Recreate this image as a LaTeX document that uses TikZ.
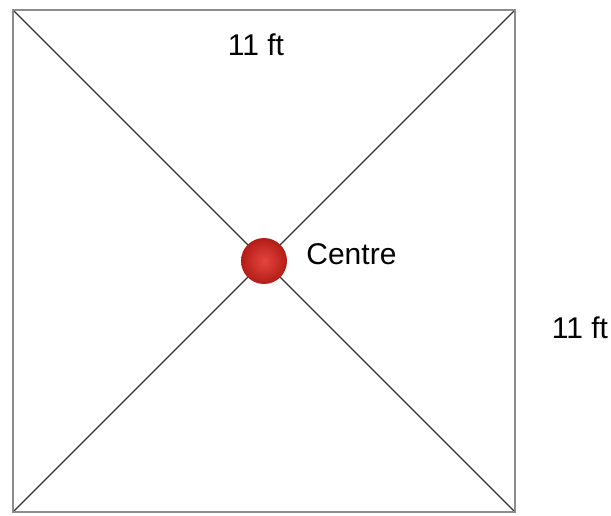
\documentclass[tikz,border=0pt]{standalone}
\usepackage{fontspec}
\setmainfont{Liberation Sans}
\usepackage{tikz}
\usetikzlibrary{positioning,calc}
\definecolor{EdgeGray}{HTML}{8C8C8C}
\definecolor{DiagGray}{HTML}{333333}
\definecolor{BallRed}{HTML}{E0241C}

\begin{document}
\begin{tikzpicture}[x=1pt, y=1pt,
  frame/.style    = {draw=EdgeGray, line width=2.8pt},
  diag/.style     = {draw=DiagGray, line width=1.1pt},
  ball/.style     = {circle, minimum size=46pt, inner sep=0pt, shading=radial,
                     inner color=BallRed!85!white, outer color=BallRed!80!black},
  lbl/.style      = {font=\fontsize{30}{36}\selectfont, inner sep=0pt}
]
\useasboundingbox (0,0) rectangle (611,515);

% Corners of the room
\coordinate (tl) at (13,505);
\coordinate (tr) at (515,505);
\coordinate (br) at (515,3);
\coordinate (bl) at (13,3);

% Diagonals
\draw[diag] (tl) -- (br);
\draw[diag] (tr) -- (bl);

% Outline
\draw[frame] (tl) -- (tr) -- (br) -- (bl) -- cycle;

% Centre point
\node[ball] (centre) at ($(tl)!0.5!(br)$) {};
\node[lbl, right=19pt of centre, yshift=7pt] (centrelbl) {Centre};

% Side lengths
\node[lbl] (toplen) at (256,470) {11 ft};
\node[lbl] (sidelen) at (580,187) {11 ft};
\end{tikzpicture}
\end{document}
